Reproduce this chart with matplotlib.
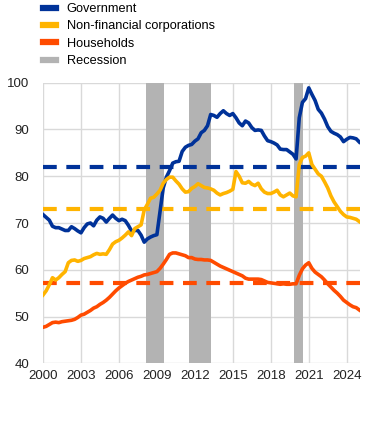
import numpy as np
import matplotlib
matplotlib.use("Agg")
import matplotlib.pyplot as plt
from matplotlib.lines import Line2D

plt.rcParams['font.family'] = ['Liberation Sans', 'DejaVu Sans']

# Quarterly observations, 2000Q1 .. 2025Q1
start_year = 2000
government = [
    71.8, 71.2, 70.6, 69.3,
    69.0, 69.0, 68.7, 68.4,
    68.4, 69.2, 68.8, 68.3,
    67.9, 69.0, 69.8, 70.0,
    69.4, 70.6, 71.3, 71.0,
    70.2, 71.0, 71.7, 71.0,
    70.5, 70.8, 70.5, 69.5,
    68.3, 68.4, 68.4, 67.4,
    65.9, 66.6, 67.0, 67.3,
    67.5, 72.5, 77.5, 79.8,
    81.2, 82.8, 83.1, 83.2,
    85.3, 86.2, 86.6, 86.8,
    87.5, 88.0, 89.3, 89.8,
    90.8, 93.2, 93.0, 92.6,
    93.4, 94.0, 93.4, 93.0,
    93.4, 92.5, 91.4, 90.8,
    91.8, 91.4, 90.4, 89.8,
    89.9, 89.8, 88.6, 87.6,
    87.4, 87.1, 86.7, 85.8,
    85.7, 85.7, 85.2, 84.7,
    83.7, 92.5, 95.8, 96.6,
    98.9, 97.5, 96.2, 94.3,
    93.5, 92.2, 90.6, 89.6,
    89.2, 88.9, 88.4, 87.4,
    87.9, 88.3, 88.2, 88.0,
    87.3,
]
non_financial_corporations = [
    54.6, 55.5, 56.8, 58.3,
    57.8, 58.3, 59.0, 59.6,
    61.5, 62.0, 62.1, 61.8,
    62.0, 62.4, 62.6, 62.8,
    63.2, 63.5, 63.3, 63.4,
    63.3, 64.3, 65.5, 66.0,
    66.3, 66.8, 67.4, 68.1,
    67.3, 68.8, 69.2, 69.6,
    72.8, 74.0, 75.3, 75.5,
    76.2, 77.0, 78.5, 79.3,
    79.8, 79.8, 79.0, 78.3,
    77.3, 76.6, 76.7, 77.4,
    77.8, 78.4, 78.0, 77.6,
    77.5, 77.3, 77.0, 76.4,
    76.0, 76.3, 76.5, 76.8,
    77.2, 81.0, 80.0, 78.6,
    78.5, 78.9, 78.3, 78.0,
    78.5, 77.3, 76.6, 76.3,
    76.3, 76.6, 77.0, 76.0,
    75.6, 76.0, 76.4, 75.8,
    75.6, 82.5, 84.0, 84.3,
    85.0, 82.5, 81.5, 80.5,
    80.0, 78.8, 77.5, 75.8,
    74.5, 73.5, 72.5, 71.8,
    71.3, 71.2, 71.0, 70.8,
    70.3,
]
households = [
    47.7, 47.9, 48.3, 48.7,
    48.8, 48.7, 48.9, 49.0,
    49.1, 49.2, 49.4, 49.8,
    50.3, 50.5, 50.9, 51.3,
    51.8, 52.1, 52.6, 53.0,
    53.5, 54.1, 54.8, 55.5,
    56.1, 56.6, 57.1, 57.5,
    57.8, 58.1, 58.4, 58.6,
    58.9, 59.0, 59.2, 59.4,
    59.6, 60.3, 61.2, 62.2,
    63.3, 63.6, 63.6, 63.4,
    63.2, 63.0, 62.6, 62.6,
    62.3, 62.2, 62.2, 62.1,
    62.1, 62.0, 61.6, 61.2,
    60.8, 60.5, 60.2, 59.9,
    59.6, 59.3, 59.0, 58.7,
    58.2, 58.0, 58.0, 58.0,
    58.0, 57.9, 57.6, 57.3,
    57.2, 57.1, 57.0, 56.9,
    57.0, 56.9, 56.9, 57.0,
    57.0, 58.8, 60.2, 61.0,
    61.5, 60.3, 59.5, 59.0,
    58.5, 57.8, 57.0, 56.3,
    55.6, 55.0, 54.3, 53.5,
    53.0, 52.5, 52.1, 51.9,
    51.4,
]
averages = {"Government": 82.0, "Non-financial corporations": 72.9, "Households": 57.1}
recession_starts = [2008.1, 2011.55, 2019.8]
recession_ends = [2009.55, 2013.25, 2020.55]
x_ticks = [2000, 2003, 2006, 2009, 2012, 2015, 2018, 2021, 2024]
y_ticks = [40, 50, 60, 70, 80, 90, 100]

labels = ["Government", "Non-financial corporations", "Households"]
colors = ["#003299", "#FFB400", "#FF4B00"]
rec_color = "#B3B3B3"

x = start_year + np.arange(len(government)) * 0.25

fig = plt.figure(figsize=(3.72, 4.21), dpi=100)
ax = fig.add_axes([43/372, 1 - 363.3/421, (360 - 43)/372, (363.3 - 82.7)/421])

for s, e in zip(recession_starts, recession_ends):
    ax.axvspan(s, e, color=rec_color, lw=0, zorder=1)

series = [government, non_financial_corporations, households]
for lab, col, ys in zip(labels, colors, series):
    ax.plot(x, ys, color=col, lw=2.6, zorder=3, solid_joinstyle='round')
    ax.axhline(averages[lab], color=col, lw=3.0, ls=(0, (3.3, 2.3)), zorder=2)

ax.set_xlim(2000, 2025.05)
ax.set_ylim(40, 100)
ax.set_xticks(x_ticks)
ax.set_yticks(y_ticks)
ax.set_xticklabels([str(t) for t in x_ticks])
ax.grid(True, color="#D9D9D9", lw=1.0, zorder=0)
ax.set_axisbelow(True)
for sp in ax.spines.values():
    sp.set_visible(False)
ax.tick_params(length=0, labelsize=9.5, colors="#222222", pad=5)
ax.tick_params(axis='y', pad=10)

handles = [Line2D([], [], color=c, lw=4.5) for c in colors] + [Line2D([], [], color=rec_color, lw=4.5)]
fig.legend(handles, labels + ["Recession"], loc="upper left",
           bbox_to_anchor=(43/372, 1 - 3/421), frameon=False, fontsize=9.2,
           handlelength=1.0, handletextpad=0.85, labelspacing=0.42,
           borderaxespad=0, borderpad=0)

fig.savefig("out.png", dpi=100)
